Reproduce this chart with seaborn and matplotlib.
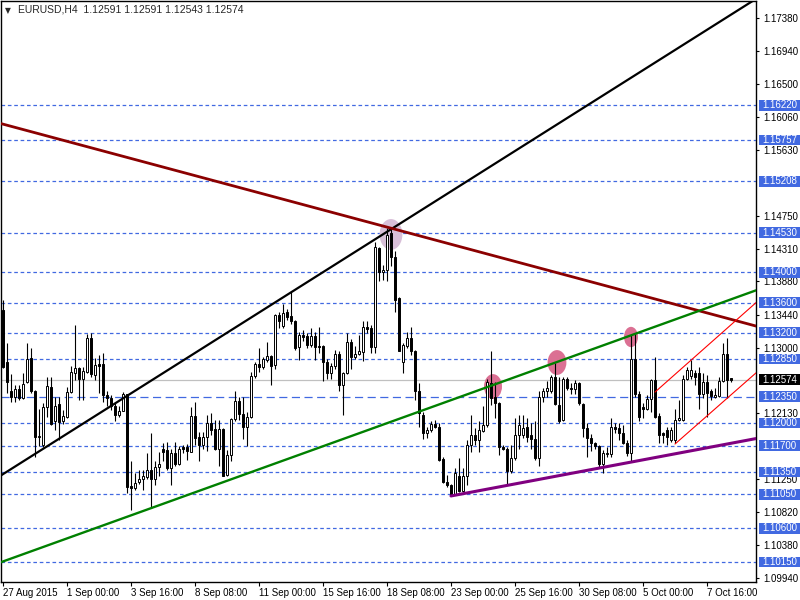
import matplotlib
matplotlib.use("Agg")
import matplotlib.pyplot as plt
import matplotlib.transforms as mtransforms
from matplotlib.patches import Ellipse, Rectangle
import seaborn as sns

sns.set_theme(style="white")
plt.rcParams['font.family'] = ['Liberation Sans', 'DejaVu Sans']

# EURUSD H4 candles
opens = [1.1350, 1.1281, 1.1242, 1.1234, 1.1245, 1.1233, 1.1254, 1.1286, 1.1242, 1.1181,
         1.1171, 1.1221, 1.1248, 1.1202, 1.1225, 1.1202, 1.1208, 1.1241, 1.1267, 1.1273,
         1.1258, 1.1268, 1.1313, 1.1264, 1.1278, 1.1278, 1.1237, 1.1233, 1.1222, 1.1210,
         1.1216, 1.1238, 1.1116, 1.1113, 1.1121, 1.1125, 1.1128, 1.1138, 1.1126, 1.1141,
         1.1165, 1.1164, 1.1140, 1.1160, 1.1146, 1.1168, 1.1168, 1.1162, 1.1209, 1.1182,
         1.1171, 1.1182, 1.1200, 1.1192, 1.1166, 1.1192, 1.1131, 1.1157, 1.1205, 1.1229,
         1.1212, 1.1194, 1.1208, 1.1262, 1.1278, 1.1275, 1.1284, 1.1289, 1.1277, 1.1344,
         1.1329, 1.1348, 1.1342, 1.1335, 1.1301, 1.1317, 1.1315, 1.1303, 1.1315, 1.1302,
         1.1302, 1.1281, 1.1267, 1.1276, 1.1292, 1.1250, 1.1266, 1.1307, 1.1288, 1.1291,
         1.1294, 1.1328, 1.1326, 1.1301, 1.1433, 1.1401, 1.1403, 1.1452, 1.1421, 1.1366,
         1.1281, 1.1302, 1.1313, 1.1296, 1.1242, 1.1211, 1.1186, 1.1191, 1.1199, 1.1195,
         1.1152, 1.1121, 1.1118, 1.1105, 1.1129, 1.1110, 1.1130, 1.1171, 1.1184, 1.1177,
         1.1189, 1.1197, 1.1253, 1.1234, 1.1226, 1.1168, 1.1166, 1.1136, 1.1154, 1.1184,
         1.1184, 1.1195, 1.1184, 1.1179, 1.1154, 1.1234, 1.1242, 1.1242, 1.1261, 1.1224,
         1.1204, 1.1258, 1.1246, 1.1245, 1.1253, 1.1225, 1.1193, 1.1180, 1.1173, 1.1169,
         1.1146, 1.1159, 1.1159, 1.1194, 1.1193, 1.1187, 1.1173, 1.1160, 1.1285, 1.1239,
         1.1221, 1.1218, 1.1232, 1.1257, 1.1209, 1.1186, 1.1190, 1.1178, 1.1178, 1.1204,
         1.1204, 1.1259, 1.1262, 1.1266, 1.1266, 1.1239, 1.1255, 1.1242, 1.1234, 1.1236,
         1.1256, 1.1292, 1.12591]
highs = [1.1364, 1.1306, 1.1265, 1.1250, 1.1250, 1.1266, 1.1306, 1.1299, 1.1244, 1.1218,
         1.1227, 1.1261, 1.1261, 1.1235, 1.1235, 1.1217, 1.1248, 1.1276, 1.1330, 1.1275,
         1.1275, 1.1318, 1.1320, 1.1286, 1.1290, 1.1293, 1.1242, 1.1237, 1.1226, 1.1222,
         1.1241, 1.1239, 1.1149, 1.1133, 1.1138, 1.1137, 1.1160, 1.1186, 1.1149, 1.1162,
         1.1174, 1.1175, 1.1166, 1.1175, 1.1169, 1.1171, 1.1172, 1.1221, 1.1228, 1.1188,
         1.1188, 1.1211, 1.1213, 1.1204, 1.1204, 1.1193, 1.1164, 1.1206, 1.1242, 1.1235,
         1.1234, 1.1215, 1.1268, 1.1281, 1.1299, 1.1287, 1.1308, 1.1290, 1.1345, 1.1348,
         1.1358, 1.1352, 1.1374, 1.1337, 1.1321, 1.1324, 1.1319, 1.1326, 1.1321, 1.1327,
         1.1304, 1.1285, 1.1279, 1.1297, 1.1295, 1.1268, 1.1319, 1.1312, 1.1302, 1.1317,
         1.1335, 1.1335, 1.1330, 1.1441, 1.1434, 1.1410, 1.1459, 1.1459, 1.1428, 1.1368,
         1.1306, 1.1321, 1.1328, 1.1297, 1.1253, 1.1215, 1.1195, 1.1203, 1.1204, 1.1200,
         1.1155, 1.1131, 1.1119, 1.1140, 1.1153, 1.1140, 1.1177, 1.1211, 1.1193, 1.1202,
         1.1222, 1.1259, 1.1295, 1.1255, 1.1228, 1.1171, 1.1168, 1.1171, 1.1206, 1.1210,
         1.1211, 1.1206, 1.1200, 1.1202, 1.1242, 1.1246, 1.1256, 1.1264, 1.1279, 1.1261,
         1.1261, 1.1261, 1.1253, 1.1257, 1.1255, 1.1226, 1.1200, 1.1185, 1.1175, 1.1171,
         1.1164, 1.1168, 1.1206, 1.1200, 1.1200, 1.1197, 1.1177, 1.1317, 1.1319, 1.1242,
         1.1226, 1.1237, 1.1259, 1.1288, 1.1213, 1.1188, 1.1195, 1.1195, 1.1219, 1.1230,
         1.1264, 1.1275, 1.1284, 1.1270, 1.1275, 1.1266, 1.1264, 1.1245, 1.1246, 1.1261,
         1.1306, 1.1313, 1.12591]
lows = [1.1273, 1.1240, 1.1228, 1.1228, 1.1230, 1.1232, 1.1253, 1.1240, 1.1155, 1.1170,
        1.1168, 1.1208, 1.1197, 1.1191, 1.1178, 1.1199, 1.1206, 1.1240, 1.1257, 1.1230,
        1.1231, 1.1267, 1.1261, 1.1257, 1.1240, 1.1228, 1.1222, 1.1217, 1.1203, 1.1208,
        1.1216, 1.1107, 1.1085, 1.1111, 1.1119, 1.1111, 1.1126, 1.1087, 1.1118, 1.1129,
        1.1149, 1.1138, 1.1118, 1.1143, 1.1144, 1.1160, 1.1151, 1.1161, 1.1171, 1.1150,
        1.1166, 1.1163, 1.1184, 1.1164, 1.1143, 1.1129, 1.1130, 1.1149, 1.1202, 1.1204,
        1.1179, 1.1169, 1.1206, 1.1260, 1.1268, 1.1272, 1.1281, 1.1250, 1.1272, 1.1326,
        1.1326, 1.1337, 1.1332, 1.1297, 1.1283, 1.1309, 1.1299, 1.1301, 1.1283, 1.1293,
        1.1256, 1.1259, 1.1259, 1.1272, 1.1242, 1.1211, 1.1265, 1.1272, 1.1285, 1.1290,
        1.1282, 1.1319, 1.1293, 1.1293, 1.1388, 1.1390, 1.1388, 1.1408, 1.1348, 1.1295,
        1.1267, 1.1300, 1.1290, 1.1231, 1.1195, 1.1179, 1.1180, 1.1188, 1.1193, 1.1149,
        1.1120, 1.1115, 1.1104, 1.1104, 1.1108, 1.1108, 1.1118, 1.1161, 1.1171, 1.1162,
        1.1188, 1.1195, 1.1224, 1.1207, 1.1157, 1.1164, 1.1119, 1.1133, 1.1151, 1.1166,
        1.1180, 1.1175, 1.1166, 1.1151, 1.1143, 1.1228, 1.1235, 1.1240, 1.1224, 1.1200,
        1.1202, 1.1244, 1.1239, 1.1239, 1.1224, 1.1182, 1.1155, 1.1163, 1.1166, 1.1142,
        1.1134, 1.1155, 1.1155, 1.1187, 1.1177, 1.1172, 1.1156, 1.1149, 1.1235, 1.1202,
        1.1206, 1.1217, 1.1215, 1.1206, 1.1173, 1.1173, 1.1171, 1.1175, 1.1173, 1.1203,
        1.1202, 1.1257, 1.1259, 1.1250, 1.1218, 1.1233, 1.1208, 1.1230, 1.1233, 1.1234,
        1.1254, 1.1233, 1.12543]
closes = [1.1275, 1.1254, 1.1235, 1.1245, 1.1233, 1.1252, 1.1285, 1.1242, 1.1182, 1.1183,
          1.1221, 1.1249, 1.1199, 1.1223, 1.1201, 1.1209, 1.1241, 1.1268, 1.1273, 1.1258,
          1.1269, 1.1313, 1.1265, 1.1277, 1.1276, 1.1237, 1.1233, 1.1222, 1.1210, 1.1216,
          1.1239, 1.1115, 1.1114, 1.1120, 1.1126, 1.1129, 1.1138, 1.1125, 1.1141, 1.1146,
          1.1162, 1.1140, 1.1160, 1.1146, 1.1166, 1.1166, 1.1163, 1.1209, 1.1180, 1.1171,
          1.1181, 1.1200, 1.1191, 1.1166, 1.1192, 1.1130, 1.1157, 1.1205, 1.1229, 1.1212,
          1.1194, 1.1208, 1.1262, 1.1278, 1.1275, 1.1285, 1.1289, 1.1276, 1.1344, 1.1335,
          1.1346, 1.1341, 1.1335, 1.1299, 1.1317, 1.1314, 1.1303, 1.1315, 1.1301, 1.1301,
          1.1281, 1.1267, 1.1276, 1.1292, 1.1250, 1.1266, 1.1307, 1.1288, 1.1291, 1.1295,
          1.1328, 1.1325, 1.1301, 1.1434, 1.1401, 1.1403, 1.1450, 1.1420, 1.1363, 1.1296,
          1.1303, 1.1313, 1.1295, 1.1242, 1.1213, 1.1186, 1.1191, 1.1198, 1.1195, 1.1151,
          1.1121, 1.1117, 1.1105, 1.1133, 1.1110, 1.1130, 1.1171, 1.1184, 1.1177, 1.1191,
          1.1197, 1.1255, 1.1233, 1.1226, 1.1168, 1.1166, 1.1136, 1.1154, 1.1184, 1.1197,
          1.1193, 1.1182, 1.1179, 1.1154, 1.1235, 1.1242, 1.1247, 1.1261, 1.1225, 1.1202,
          1.1258, 1.1246, 1.1245, 1.1253, 1.1226, 1.1193, 1.1180, 1.1173, 1.1170, 1.1146,
          1.1160, 1.1160, 1.1194, 1.1192, 1.1187, 1.1173, 1.1160, 1.1285, 1.1239, 1.1208,
          1.1218, 1.1232, 1.1257, 1.1208, 1.1184, 1.1184, 1.1182, 1.1190, 1.1204, 1.1206,
          1.1259, 1.1270, 1.1270, 1.1261, 1.1239, 1.1255, 1.1240, 1.1236, 1.1237, 1.1256,
          1.1292, 1.1257, 1.12574]

date_labels = ["27 Aug 2015", "1 Sep 00:00", "3 Sep 16:00", "8 Sep 08:00", "11 Sep 00:00",
               "15 Sep 16:00", "18 Sep 08:00", "23 Sep 00:00", "25 Sep 16:00",
               "30 Sep 08:00", "5 Oct 00:00", "7 Oct 16:00"]
price_ticks = [1.17380, 1.16940, 1.16500, 1.16060, 1.15630, 1.14750, 1.14310, 1.13880,
               1.13440, 1.13000, 1.12130, 1.11250, 1.10820, 1.10380, 1.09940]
levels = [1.16220, 1.15757, 1.15208, 1.14530, 1.14000, 1.13600, 1.13200, 1.12850,
          1.12350, 1.12000, 1.11700, 1.11350, 1.11050, 1.10600, 1.10150]
last_price = 1.12574
header = "EURUSD,H4  1.12591 1.12591 1.12543 1.12574"

# trend lines: two anchors (bar index, price) each
black_line = [(0, 1.1132), (96, 1.1454)]
maroon_line = [(0, 1.1597), (120, 1.1426)]
green_line = [(0, 1.1016), (150, 1.1303)]
purple_line = [(112, 1.1103), (182, 1.1173)]
channel_top = [(163, 1.1241), (180, 1.1321)]
channel_bottom = [(168, 1.1172), (180, 1.1228)]

# highlighted touches: (bar, price, width in bars, height in price)
pink_marks = [(122.5, 1.12484, 4.5, 0.0033), (138.5, 1.12803, 4.7, 0.0033),
              (157, 1.13142, 3.5, 0.0027)]
lilac_mark = (97, 1.14504, 5.7, 0.0041)

XMIN, XMAX = -0.5, 188.25
YMIN, YMAX = 1.09887, 1.17606
BLUE = '#4169e1'
FS = 7

fig = plt.figure(figsize=(8, 6), dpi=100)
ax = fig.add_axes([1 / 800, 18 / 600, 755 / 800, 581 / 600])
ax.set_xlim(XMIN, XMAX)
ax.set_ylim(YMIN, YMAX)

# horizontal levels
for lv in levels:
    dash = (6.5, 3.6) if lv == 1.12350 else (2.9, 2.2)
    ax.axhline(lv, color=BLUE, lw=0.9, dashes=dash, zorder=1)
ax.axhline(last_price, color='#c0c0c0', lw=0.9, zorder=1)

# marks behind the candles
for bx, py, w, h in pink_marks:
    ax.add_patch(Ellipse((bx, py), w, h, fc='#db7093', ec='none', zorder=1.5))
ax.add_patch(Ellipse(lilac_mark[:2], lilac_mark[2], lilac_mark[3], fc='#d8bfd8', ec='none',
                     zorder=1.5))

# candles
idx = list(range(len(opens)))
ax.vlines(idx, lows, highs, color='black', lw=0.8, zorder=2)
bottoms = [min(o, c) for o, c in zip(opens, closes)]
heights = [max(abs(c - o), 0.00004) for o, c in zip(opens, closes)]
colors = ['white' if c >= o else 'black' for o, c in zip(opens, closes)]
ax.bar(idx, heights, bottom=bottoms, width=0.62, color=colors, edgecolor='black',
       linewidth=0.7, zorder=2.2)


def ray(pts, start, end):
    (x0, y0), (x1, y1) = pts
    s = (y1 - y0) / (x1 - x0)
    return [start, end], [y0 + s * (start - x0), y0 + s * (end - x0)]


for pts, col, lw, x_start in [(black_line, 'black', 1.6, XMIN),
                              (maroon_line, '#8b0000', 2.0, XMIN),
                              (green_line, '#008000', 1.7, XMIN),
                              (purple_line, '#800080', 2.2, purple_line[0][0]),
                              (channel_top, '#ff0000', 0.8, channel_top[0][0]),
                              (channel_bottom, '#ff0000', 0.8, channel_bottom[0][0])]:
    xs, ys = ray(pts, x_start, XMAX + 5)
    sns.lineplot(x=xs, y=ys, ax=ax, color=col, lw=lw, sort=False, zorder=3)

# axes styling like the terminal
for sp in ax.spines.values():
    sp.set_color('black')
    sp.set_linewidth(1)
ax.yaxis.tick_right()
ax.set_yticks(price_ticks)
ax.set_yticklabels([f"{p:.5f}" for p in price_ticks])
ax.set_xticks(list(range(0, 177, 16)))
ax.set_xticklabels(date_labels, ha='left')
ax.tick_params(axis='y', which='both', right=True, length=2.5, width=0.8, pad=3,
               labelsize=FS, colors='black')
ax.tick_params(axis='x', which='both', bottom=True, length=3, width=0.8, pad=1.5,
               labelsize=FS, colors='black')
ax.set_xlabel('')
ax.set_ylabel('')
ax.grid(False)

# level price tags on the right scale
tr = mtransforms.blended_transform_factory(ax.transAxes, ax.transData)
tag_h = 0.0014
for lv in levels:
    ax.add_patch(Rectangle((1.004, lv - tag_h / 2), 0.06, tag_h, transform=tr, fc=BLUE,
                           ec='none', clip_on=False, zorder=10))
    ax.text(1.0085, lv, f"{lv:.5f}", transform=tr, color='white', fontsize=FS,
            va='center', ha='left', clip_on=False, zorder=11)
ax.add_patch(Rectangle((1.004, last_price - tag_h / 2), 0.06, tag_h, transform=tr,
                       fc='black', ec='none', clip_on=False, zorder=10))
ax.text(1.0085, last_price, f"{last_price:.5f}", transform=tr, color='white', fontsize=FS,
        va='center', ha='left', clip_on=False, zorder=11)

# header
ax.text(0.005, 0.992, "\u25bc", transform=ax.transAxes, fontsize=5.5, va='top',
        family=['DejaVu Sans'])
ax.text(0.023, 0.994, header, transform=ax.transAxes, fontsize=7.5, va='top')

fig.savefig('out.png', dpi=100)
